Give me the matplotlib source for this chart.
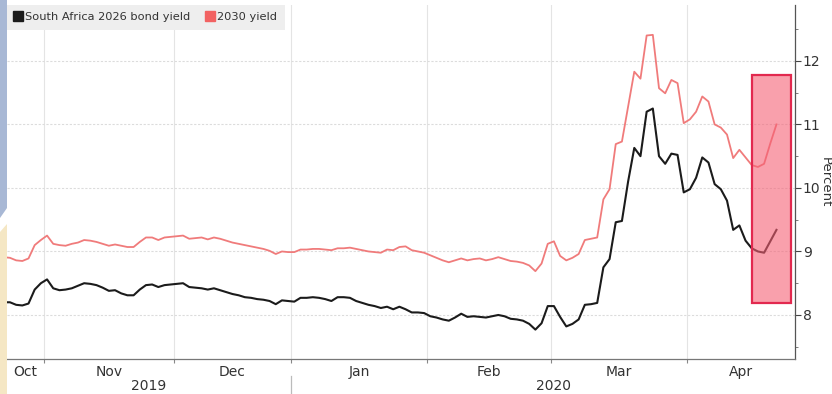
import matplotlib.pyplot as plt
import matplotlib.transforms as mtransforms
from matplotlib.patches import Rectangle, Polygon
from matplotlib.lines import Line2D
import numpy as np
import pandas as pd

# JSE trading days, public holidays taken out
HOLIDAYS = pd.to_datetime(['2019-12-16', '2019-12-25', '2019-12-26',
                           '2020-01-01', '2020-04-10', '2020-04-13'])
days = pd.bdate_range('2019-10-23', '2020-04-23')
days = days[~days.isin(HOLIDAYS)]

# 2026 bond yield, percent
y2026_oct = [8.20, 8.20, 8.16, 8.15, 8.18, 8.40, 8.50]
y2026_nov = [8.56, 8.42, 8.39, 8.40, 8.42, 8.46, 8.50, 8.49, 8.47, 8.43, 8.38,
             8.39, 8.34, 8.31, 8.31, 8.40, 8.47, 8.48, 8.44, 8.47, 8.48]
y2026_dec = [8.49, 8.50, 8.44, 8.43, 8.42, 8.40, 8.42, 8.39, 8.36, 8.33, 8.31,
             8.28, 8.27, 8.25, 8.24, 8.22, 8.17, 8.23, 8.22]
y2026_jan = [8.21, 8.27, 8.27, 8.28, 8.27, 8.25, 8.22, 8.28, 8.28, 8.27, 8.22,
             8.19, 8.16, 8.14, 8.11, 8.13, 8.09, 8.13, 8.09, 8.04, 8.04, 8.03]
y2026_feb = [7.98, 7.96, 7.93, 7.91, 7.96, 8.02, 7.97, 7.98, 7.97, 7.96, 7.98,
             8.00, 7.98, 7.94, 7.93, 7.91, 7.86, 7.77, 7.87, 8.14]
y2026_mar = [8.14, 7.97, 7.82, 7.86, 7.93, 8.16, 8.17, 8.19, 8.75, 8.88, 9.46,
             9.48, 10.10, 10.63, 10.50, 11.20, 11.25, 10.50, 10.38, 10.54, 10.52, 9.93]
y2026_apr = [9.98, 10.16, 10.48, 10.40, 10.06, 9.98, 9.80, 9.34, 9.41, 9.17,
             9.05, 9.00, 8.98, 9.16, 9.34]

# 2030 bond yield, percent
y2030_oct = [8.91, 8.90, 8.86, 8.85, 8.89, 9.10, 9.18]
y2030_nov = [9.25, 9.12, 9.10, 9.09, 9.12, 9.14, 9.18, 9.17, 9.15, 9.12, 9.09,
             9.11, 9.09, 9.07, 9.07, 9.15, 9.22, 9.22, 9.18, 9.22, 9.23]
y2030_dec = [9.24, 9.25, 9.20, 9.21, 9.22, 9.19, 9.22, 9.20, 9.17, 9.14, 9.12,
             9.10, 9.08, 9.06, 9.04, 9.01, 8.96, 9.00, 8.99]
y2030_jan = [8.99, 9.03, 9.03, 9.04, 9.04, 9.03, 9.02, 9.05, 9.05, 9.06, 9.04,
             9.02, 9.00, 8.99, 8.98, 9.03, 9.02, 9.07, 9.08, 9.02, 9.00, 8.98]
y2030_feb = [8.94, 8.90, 8.86, 8.83, 8.86, 8.89, 8.86, 8.88, 8.89, 8.86, 8.88,
             8.91, 8.88, 8.85, 8.84, 8.82, 8.78, 8.69, 8.81, 9.12]
y2030_mar = [9.16, 8.93, 8.86, 8.90, 8.96, 9.18, 9.20, 9.22, 9.82, 9.98, 10.69,
             10.73, 11.28, 11.83, 11.72, 12.40, 12.41, 11.57, 11.49, 11.70, 11.65, 11.02]
y2030_apr = [11.08, 11.20, 11.44, 11.36, 11.00, 10.95, 10.84, 10.47, 10.60, 10.48,
             10.36, 10.33, 10.38, 10.70, 11.00]

LABELS = ['South Africa 2026 bond yield', '2030 yield']
MONTHS = ['Oct', 'Nov', 'Dec', 'Jan', 'Feb', 'Mar', 'Apr']
YEARS = ['2019', '2020']

# highlighted window (trading-day index, percent)
BOX_X = (121.1, 127.4)
BOX_Y = (8.19, 11.78)

y2026 = np.array(y2026_oct + y2026_nov + y2026_dec + y2026_jan + y2026_feb + y2026_mar + y2026_apr)
y2030 = np.array(y2030_oct + y2030_nov + y2030_dec + y2030_jan + y2030_feb + y2030_mar + y2030_apr)
assert len(y2026) == len(days) == len(y2030)
x = np.arange(len(days))

BLACK = '#1b1b1b'
RED = '#f07b7b'
TXT = '#333333'

W, H = 832, 394
fig = plt.figure(figsize=(W / 100, H / 100), dpi=100)
ax = fig.add_axes([7 / W, 1 - 359 / H, (795 - 7) / W, (359 - 5) / H])

ax.plot(x, y2030, color=RED, lw=1.3, zorder=3)
ax.plot(x, y2026, color=BLACK, lw=1.5, zorder=3)

ax.add_patch(Rectangle((BOX_X[0], BOX_Y[0]), BOX_X[1] - BOX_X[0], BOX_Y[1] - BOX_Y[0],
                       facecolor=(0.96, 0.38, 0.46, 0.6), edgecolor='#e2294f', lw=1.6, zorder=4))

ax.set_xlim(0.52, 128.0)
ax.set_ylim(7.307, 12.88)

# month boundaries sit halfway between the last and first trading day
month_start = np.r_[0, np.nonzero(np.diff(days.month))[0] + 1]
bounds = month_start[1:] - 0.5
edges = np.r_[ax.get_xlim()[0], bounds, ax.get_xlim()[1]]
centers = (edges[:-1] + edges[1:]) / 2

ax.set_xticks(bounds)
ax.set_xticklabels([])
ax.set_xticks(centers, minor=True)
ax.set_xticklabels(MONTHS, minor=True)
ax.tick_params(axis='x', which='major', length=3, width=0.8, color='#888888')
ax.tick_params(axis='x', which='minor', length=0, pad=4, labelsize=10, labelcolor=TXT)

ax.yaxis.tick_right()
ax.set_yticks([8, 9, 10, 11, 12])
ax.set_yticks(np.arange(7.5, 13, 1.0), minor=True)
ax.tick_params(axis='y', which='major', length=4, width=0.8, color='#444444',
               pad=1.5, labelsize=10, labelcolor=TXT)
ax.tick_params(axis='y', which='minor', length=2, width=0.6, color='#666666')

# axis title squeezed against the right edge
fig.text(825.5 / W, 1 - 182 / H, 'Percent', rotation=270, ha='center', va='center',
         fontsize=9.5, color=TXT)

for s in ['left', 'top']:
    ax.spines[s].set_visible(False)
ax.spines['right'].set_color('#555555')
ax.spines['bottom'].set_color('#777777')
ax.spines['right'].set_linewidth(0.9)
ax.spines['bottom'].set_linewidth(0.9)

ax.grid(axis='x', which='major', color='#e4e4e4', lw=0.8)
ax.grid(axis='y', which='major', color='#dcdcdc', lw=0.8, ls=(0, (2, 1.5)))
ax.set_axisbelow(True)

# year row under the month labels
trans = mtransforms.blended_transform_factory(ax.transData, ax.transAxes)
jan = bounds[2]
ax.text((edges[0] + jan) / 2, -0.077, YEARS[0], transform=trans, ha='center', va='center',
        fontsize=10, color=TXT)
ax.text(month_start[5], -0.077, YEARS[1], transform=trans, ha='center', va='center',
        fontsize=10, color=TXT)
ax.plot([jan, jan], [-0.048, -0.095], transform=trans, color='#bbbbbb', lw=0.9, clip_on=False)

handles = [Line2D([], [], ls='none', marker='s', markersize=6.5, color=BLACK),
           Line2D([], [], ls='none', marker='s', markersize=6.5, color='#f26262')]
leg = ax.legend(handles, LABELS, loc='upper left', bbox_to_anchor=(0, 1), ncol=2,
                fontsize=8.2, frameon=True, facecolor='#eeeeee', edgecolor='none',
                framealpha=1, fancybox=False, borderaxespad=0, borderpad=0.65,
                handlelength=0.7, handletextpad=0.25, columnspacing=1.4)
leg.set_zorder(5)
for t in leg.get_texts():
    t.set_color(TXT)

# slide decorations along the left edge
def px(pts):
    return [(a / W, 1 - b / H) for a, b in pts]

fig.patches.append(Polygon(px([(0, 0), (7, 0), (7, 208), (0, 218)]), closed=True,
                           facecolor='#a8b8d5', edgecolor='none', transform=fig.transFigure))
fig.patches.append(Polygon(px([(0, 232), (7, 224), (7, 394), (0, 394)]), closed=True,
                           facecolor='#f5e7c4', edgecolor='none', transform=fig.transFigure))

fig.savefig('out.png', dpi=100)
